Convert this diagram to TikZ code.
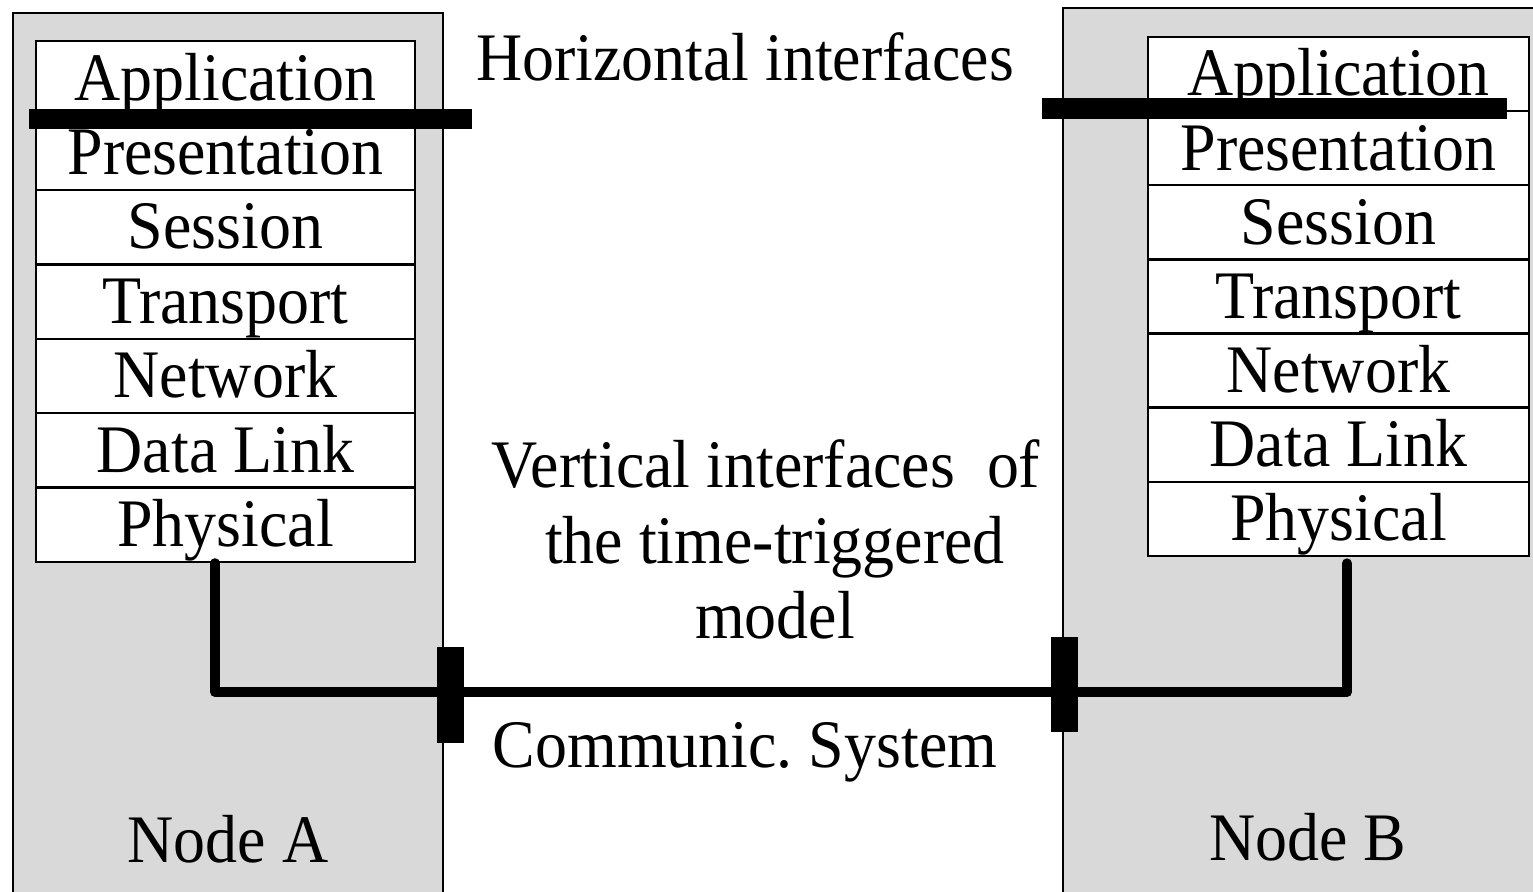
\documentclass[tikz,border=0pt]{standalone}
\usepackage{fontspec}
\setmainfont[FakeStretch=0.94]{Liberation Serif}
\usetikzlibrary{calc}
\definecolor{boxgray}{HTML}{D9D9D9}
\frenchspacing
\begin{document}
\begin{tikzpicture}[x=0.5pt,y=-0.5pt,
  bigfont/.style={font=\fontsize{34}{38}\selectfont},
  nodebox/.style={draw=black,line width=1pt,fill=boxgray},
  layer/.style={draw=black,line width=1.2pt,fill=white,inner sep=0pt,
    text height=25pt,text depth=3.2pt,minimum height=37.2pt,bigfont},
  layerA/.style={layer,minimum width=189.5pt},
  layerB/.style={layer,minimum width=190.5pt},
  bar/.style={fill=black,draw=none,inner sep=0pt},
  bus/.style={line width=5pt,line cap=round,line join=round},
  label/.style={anchor=base,inner sep=0pt,bigfont}]
\clip (0,0) rectangle (1533,891);
\fill[white] (0,0) rectangle (1533,891);
% node enclosures
\path[nodebox] (13,13) rectangle (443,920);
\path[nodebox] (1063,8) rectangle (1560,920);
% layer stacks
\foreach \t [count=\i] in {Application,Presentation,Session,Transport,Network,Data Link,Physical}{
  \node[layerA] (a\i) at (225.5,{41+74.43*(\i-0.5)}) {\t};
  \node[layerB] (b\i) at (1338.5,{37+74.14*(\i-0.5)}) {\t};
}
% horizontal interface bars
\node[bar,minimum width=221.5pt,minimum height=10pt] (hbarA) at (250.5,119) {};
\node[bar,minimum width=232.5pt,minimum height=10.5pt] (hbarB) at (1274.5,108.5) {};
% bus
\coordinate (busY) at (0,692);
\node[bar,minimum width=13.5pt,minimum height=48pt] (tapA) at (450.5,695) {};
\node[bar,minimum width=13.5pt,minimum height=47.5pt] (tapB) at (1064.5,684.5) {};
\draw[bus] ([xshift=-5.25pt]a7.south) |- (busY -| tapB.center) -| ([xshift=4.25pt,yshift=-3pt]b7.south);
\node[bar,minimum width=13.5pt,minimum height=48pt] at (tapA) {};
\node[bar,minimum width=13.5pt,minimum height=47.5pt] at (tapB) {};
% texts
\node[label] (hint) at (745,80) {Horizontal interfaces};
\node[label] (v1) at (766,487) {Vertical interfaces\ \ of};
\node[label] (v2) at (775,563) {the time-triggered};
\node[label] (v3) at (775,638) {model};
\node[label] (comm) at (745,767) {Communic. System};
\node[label] (nA) at (228,862) {Node A};
\node[label] (nB) at (1308,860) {Node B};
\end{tikzpicture}
\end{document}
